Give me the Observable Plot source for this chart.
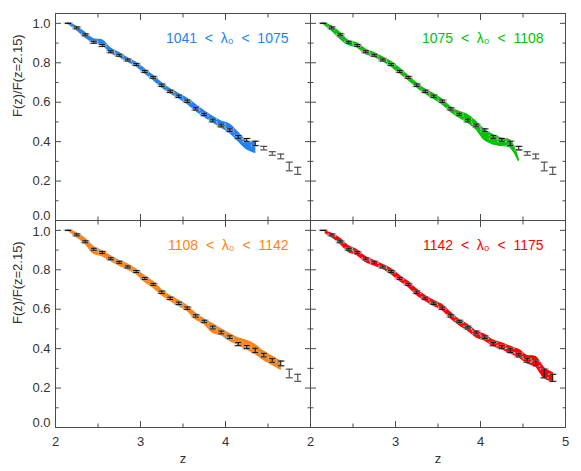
<!DOCTYPE html>
<html><head><meta charset="utf-8">
<script src="https://cdn.jsdelivr.net/npm/d3@7"></script>
<script src="https://cdn.jsdelivr.net/npm/@observablehq/plot@0.6"></script>
<style>
html,body{margin:0;padding:0;background:#fff;}
#chart svg{display:block;}
</style>
</head><body><div id="chart"></div>
<script>
// ---- data ----
const panelLabels = ["1041\u00a0\u00a0<\u00a0\u00a0λ₀\u00a0\u00a0<\u00a0\u00a01075", "1075\u00a0\u00a0<\u00a0\u00a0λ₀\u00a0\u00a0<\u00a0\u00a01108", "1108\u00a0\u00a0<\u00a0\u00a0λ₀\u00a0\u00a0<\u00a0\u00a01142", "1142\u00a0\u00a0<\u00a0\u00a0λ₀\u00a0\u00a0<\u00a0\u00a01175"];
const panelCols = ["L", "R", "L", "R"];
const panelRowsId = ["T", "T", "B", "B"];
const panelColors = ["#1f82f5", "#00c400", "#ff8415", "#ff0000"];

const pointZ = [2.15,2.25,2.35,2.45,2.55,2.65,2.75,2.85,2.95,3.05,3.15,3.25,3.35,3.45,3.55,3.65,3.75,3.85,3.95,4.05,4.15,4.25,4.35,4.45,4.55,4.65,4.75,4.85];
const pointF = [1.000,0.977,0.942,0.904,0.888,0.856,0.838,0.814,0.791,0.756,0.726,0.686,0.655,0.630,0.605,0.566,0.538,0.507,0.482,0.458,0.423,0.408,0.391,0.367,0.340,0.325,0.274,0.252];
const pointErr = [0,0.005,0.005,0.005,0.005,0.005,0.005,0.005,0.005,0.005,0.005,0.006,0.006,0.006,0.006,0.006,0.006,0.007,0.007,0.007,0.008,0.008,0.011,0.009,0.009,0.012,0.022,0.018];

const blueZ  = [2.15,2.25,2.35,2.45,2.55,2.65,2.75,2.85,2.95,3.05,3.15,3.25,3.35,3.45,3.55,3.65,3.75,3.85,3.95,4.05,4.15,4.25,4.35];
const blueLo = [0.998,0.966,0.929,0.902,0.892,0.850,0.830,0.805,0.782,0.747,0.714,0.676,0.646,0.620,0.592,0.556,0.526,0.498,0.472,0.445,0.403,0.362,0.343];
const blueHi = [1.002,0.983,0.951,0.919,0.914,0.872,0.850,0.823,0.800,0.767,0.734,0.696,0.666,0.642,0.618,0.586,0.554,0.526,0.502,0.487,0.445,0.403,0.395];

const greenZ  = [2.15,2.25,2.35,2.45,2.55,2.65,2.75,2.85,2.95,3.05,3.15,3.25,3.35,3.45,3.55,3.65,3.75,3.85,3.95,4.05,4.15,4.25,4.35,4.45];
const greenLo = [0.998,0.963,0.922,0.890,0.878,0.845,0.830,0.808,0.781,0.747,0.713,0.676,0.644,0.617,0.590,0.551,0.522,0.497,0.462,0.408,0.386,0.378,0.370,0.302];
const greenHi = [1.003,0.985,0.951,0.910,0.899,0.867,0.850,0.828,0.804,0.771,0.733,0.696,0.664,0.641,0.614,0.575,0.551,0.535,0.500,0.458,0.434,0.416,0.406,0.310];

const orangeZ  = [2.15,2.25,2.35,2.45,2.55,2.65,2.75,2.85,2.95,3.05,3.15,3.25,3.35,3.45,3.55,3.65,3.75,3.85,3.95,4.05,4.15,4.25,4.35,4.45,4.55,4.65];
const orangeLo = [0.998,0.966,0.933,0.882,0.869,0.845,0.822,0.801,0.778,0.739,0.710,0.672,0.643,0.616,0.592,0.549,0.525,0.481,0.468,0.440,0.419,0.397,0.373,0.343,0.318,0.293];
const orangeHi = [1.002,0.986,0.958,0.916,0.895,0.869,0.845,0.827,0.801,0.768,0.739,0.697,0.667,0.643,0.616,0.579,0.549,0.525,0.498,0.474,0.453,0.440,0.419,0.385,0.360,0.335];

const redZ  = [2.18,2.25,2.35,2.45,2.55,2.65,2.75,2.85,2.95,3.05,3.15,3.25,3.35,3.45,3.55,3.65,3.75,3.85,3.95,4.05,4.15,4.25,4.35,4.45,4.55,4.65,4.75,4.85];
const redLo = [0.984,0.966,0.933,0.890,0.874,0.840,0.822,0.805,0.778,0.744,0.714,0.672,0.643,0.618,0.596,0.554,0.520,0.492,0.458,0.441,0.414,0.397,0.377,0.357,0.326,0.309,0.251,0.233];
const redHi = [0.994,0.983,0.958,0.919,0.899,0.865,0.845,0.825,0.803,0.769,0.739,0.700,0.667,0.643,0.621,0.582,0.545,0.520,0.486,0.470,0.441,0.427,0.410,0.394,0.363,0.357,0.301,0.276];

const xMajorTicks = [2, 3, 4, 5];
const xMinorTicks = [2.5, 3.5, 4.5];
const yMajorTicks = [0, 0.2, 0.4, 0.6, 0.8, 1.0];
const yMinorTicks = [0.1, 0.3, 0.5, 0.7, 0.9];
const xTickLabelsLeft = [2, 3, 4];
const xTickLabelsRight = [2, 3, 4, 5];
const yTitle = "F(z)/F(z=2.15)";
const xTitle = "z";

// ---- build tables ----
const bands = [[blueZ, blueLo, blueHi], [greenZ, greenLo, greenHi], [orangeZ, orangeLo, orangeHi], [redZ, redLo, redHi]];
const bandRows = bands.flatMap(([zs, lo, hi], i) => zs.map((z, j) => ({
  panel: i, col: panelCols[i], row: panelRowsId[i], z, lo: lo[j], hi: hi[j], color: panelColors[i]
})));
const bandEnd = bands.map(([zs]) => zs[zs.length - 1]);
const pointRows = panelLabels.flatMap((_, i) => pointZ.map((z, j) => ({
  panel: i, col: panelCols[i], row: panelRowsId[i], z,
  f: pointF[j], lo: pointF[j] - pointErr[j], hi: pointF[j] + pointErr[j],
  out: z > bandEnd[i] + 1e-9
})));
const inRows = pointRows.filter(d => !d.out);
const outRows = pointRows.filter(d => d.out);
const legendRows = panelLabels.map((label, i) => ({label, col: panelCols[i], row: panelRowsId[i], color: panelColors[i]}));
const yLabelRows = ["T", "B"].flatMap(row => yMajorTicks.map(v => ({v, row, col: "L", label: v.toFixed(1)})));
const yLabelsZero = yLabelRows.filter(d => d.v === 0);
const yLabelsTopB = yLabelRows.filter(d => d.v === 1 && d.row === "B");
const yLabelsRest = yLabelRows.filter(d => d.v !== 0 && !(d.v === 1 && d.row === "B"));
const xLabelRows = [
  ...xTickLabelsLeft.map(v => ({v, col: "L", row: "B", label: String(v)})),
  ...xTickLabelsRight.map(v => ({v, col: "R", row: "B", label: String(v)}))
];
const yTitleRows = [{col: "L", row: "T"}, {col: "L", row: "B"}];
const xTitleRows = [{col: "L", row: "B"}, {col: "R", row: "B"}];

const cap = (hw) => ({draw(ctx) { ctx.moveTo(-hw, 0); ctx.lineTo(hw, 0); }});
const fxy = {fx: "col", fy: "row"};
const frameColor = "#4a4a4a";
const textColor = "#333";
const font = "'Liberation Sans', Arial, Helvetica, sans-serif";

const tickAxes = [];
for (const anchor of ["bottom", "top"]) {
  tickAxes.push(Plot.axisX(xMajorTicks, {anchor, tickSize: -6, fill: "none", stroke: frameColor, facetAnchor: null}));
  tickAxes.push(Plot.axisX(xMinorTicks, {anchor, tickSize: -3.5, fill: "none", stroke: frameColor, facetAnchor: null}));
}
for (const anchor of ["left", "right"]) {
  tickAxes.push(Plot.axisY(yMajorTicks, {anchor, tickSize: -6, fill: "none", stroke: frameColor, facetAnchor: null}));
  tickAxes.push(Plot.axisY(yMinorTicks, {anchor, tickSize: -3.5, fill: "none", stroke: frameColor, facetAnchor: null}));
}
const yLabelOpts = {y: "v", text: "label", ...fxy, frameAnchor: "left", dx: -5, textAnchor: "end", lineAnchor: "middle", fill: textColor, fontSize: 13};

const chart = Plot.plot({
  width: 581,
  height: 471,
  marginLeft: 54,
  marginRight: 16,
  marginTop: 12.5,
  marginBottom: 43,
  style: {fontFamily: font, fontSize: "13px", color: textColor, background: "#fff"},
  fx: {domain: ["L", "R"], padding: 0, axis: null},
  fy: {domain: ["T", "B"], padding: 0, axis: null},
  x: {domain: [2, 5]},
  y: {domain: [0, 1.05]},
  color: {type: "identity"},
  marks: [
    Plot.areaY(bandRows, {x: "z", y1: "lo", y2: "hi", ...fxy, z: "panel", fill: "color", stroke: "color", strokeWidth: 1.2, curve: "catmull-rom"}),
    // light grey shadow caps behind the black error bars
    Plot.dot(inRows, {x: "z", y: "lo", ...fxy, symbol: cap(4.5), stroke: "#b4b4b4", strokeWidth: 1.5, fill: "none"}),
    Plot.dot(inRows, {x: "z", y: "hi", ...fxy, symbol: cap(4.5), stroke: "#b4b4b4", strokeWidth: 1.5, fill: "none"}),
    Plot.ruleX(inRows, {x: "z", y1: "lo", y2: "hi", ...fxy, stroke: "#111", strokeWidth: 1}),
    Plot.dot(inRows, {x: "z", y: "lo", ...fxy, symbol: cap(3), stroke: "#111", strokeWidth: 1, fill: "none"}),
    Plot.dot(inRows, {x: "z", y: "hi", ...fxy, symbol: cap(3), stroke: "#111", strokeWidth: 1, fill: "none"}),
    Plot.ruleX(outRows, {x: "z", y1: "lo", y2: "hi", ...fxy, stroke: "#505050", strokeWidth: 1.2}),
    Plot.dot(outRows, {x: "z", y: "lo", ...fxy, symbol: cap(3.5), stroke: "#505050", strokeWidth: 1.2, fill: "none"}),
    Plot.dot(outRows, {x: "z", y: "hi", ...fxy, symbol: cap(3.5), stroke: "#505050", strokeWidth: 1.2, fill: "none"}),
    Plot.frame({stroke: frameColor, strokeWidth: 1}),
    ...tickAxes,
    Plot.text(yLabelsRest, yLabelOpts),
    Plot.text(yLabelsZero, {...yLabelOpts, dy: -4.5}),
    Plot.text(yLabelsTopB, {...yLabelOpts, dy: 1}),
    Plot.text(xLabelRows, {x: "v", text: "label", ...fxy, frameAnchor: "bottom", dy: 14, lineAnchor: "middle", fill: textColor, fontSize: 13}),
    Plot.text(yTitleRows, {text: () => yTitle, ...fxy, frameAnchor: "left", rotate: -90, dx: -38, lineAnchor: "middle", fill: textColor, fontSize: 13}),
    Plot.text(xTitleRows, {text: () => xTitle, ...fxy, frameAnchor: "bottom", dy: 31, lineAnchor: "middle", fill: textColor, fontSize: 13}),
    Plot.text(legendRows, {text: "label", ...fxy, fill: "color", frameAnchor: "top-right", dx: -22, dy: 25, textAnchor: "end", lineAnchor: "middle", fontSize: 14})
  ]
});
document.getElementById("chart").appendChild(chart);
</script>
</body></html>
